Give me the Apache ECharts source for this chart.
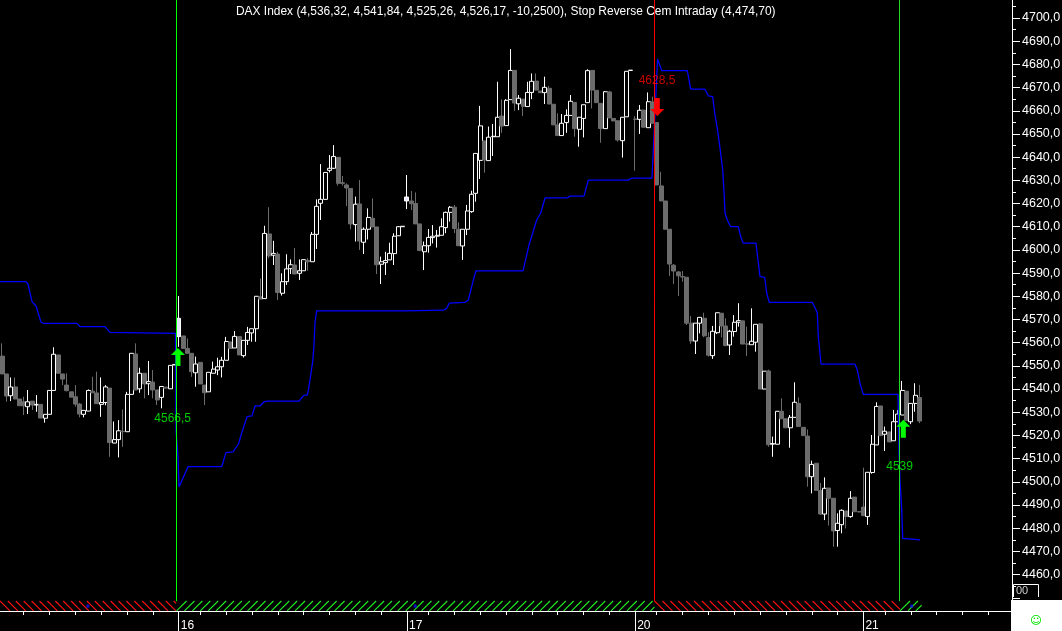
<!DOCTYPE html>
<html><head><meta charset="utf-8">
<style>html,body{margin:0;padding:0;background:#000}#c{width:1062px;height:631px}</style>
<script src="https://cdn.jsdelivr.net/npm/echarts@6/dist/echarts.min.js"></script>
</head><body><div id="c"></div>
<script>
const titleText = 'DAX Index (4,536,32, 4,541,84, 4,525,26, 4,526,17, -10,2500), Stop Reverse Cem Intraday (4,474,70)';
// candles: [open, close, low, high]
const session15 = [
[4554.2,4546.5,4546.5,4559.7],[4546.5,4537,4534.5,4546.5],[4537.1,4540.9,4534.8,4545],[4540.9,4535.7,4535.7,4545],
[4535.7,4532.8,4532.8,4535.7],[4534.5,4532.8,4528.8,4536.7],[4532.4,4534.5,4529.2,4539.6],[4534.8,4533.1,4531,4534.8],
[4533.1,4533.4,4530.2,4537.4],[4533.4,4527.5,4527.5,4533.4],[4527.4,4529.1,4525.5,4529.1],[4529.1,4539.4,4529.1,4539.4],
[4539.4,4555,4539.4,4558],[4554.7,4546.8,4546.8,4554.7],[4546.5,4544.3,4541.7,4546.5],[4541.7,4539.3,4539,4546.8],
[4538.8,4536.5,4536.5,4538.8],[4536.7,4533.5,4532.4,4541.7],[4533.5,4529.2,4527.8,4534],[4529.1,4530.8,4527.8,4530.8],
[4530.5,4539.4,4530.5,4539.8],[4539.1,4538.4,4538.4,4545.3],[4538.3,4533.7,4533.7,4547.5],[4533.4,4534.2,4528,4545],
[4534.2,4540.9,4533,4541.7],[4540.4,4516.9,4510.8,4540.4],[4516.7,4518.2,4516.7,4526],[4518.2,4522,4510.5,4526.6],
[4521.8,4521.6,4515.1,4531.2],[4521.6,4537.7,4521.6,4538.8],[4537.7,4555.4,4537.7,4555.4],[4555.1,4539.6,4539.6,4559.7],
[4540.1,4546.8,4538.4,4549.2],[4546.8,4542.2,4536,4546.8],[4542.3,4543.2,4537.4,4552.1],[4543,4539.6,4536,4548.2],
[4539.6,4535.3,4533.1,4539.6],[4536.4,4541.1,4531.7,4541.1],[4540.8,4540.4,4540.4,4540.8],[4540.1,4550.2,4540.1,4550.2],
[4550.4,4550.6,4550.4,4550.6]];
const session16 = [
[4562.6,4570.5,4558.2,4580.1],[4562.9,4557.5,4557.5,4562.9],[4557.5,4555.4,4555.4,4561.8],[4555.4,4547.5,4545.3,4555.4],
[4547,4550.8,4541,4554],[4551.5,4542.2,4542.2,4551.5],[4541.7,4538.4,4533.1,4541.7],[4538.8,4547.2,4538.8,4547.2],
[4546.8,4548.6,4546.8,4551.8],[4548.2,4549.6,4546,4553.5],[4549.6,4552.4,4545,4553.9],[4552.4,4560.5,4552.4,4562.5],
[4560.3,4557.5,4557.5,4560.3],[4557.7,4562.7,4557.7,4565],[4562.6,4554.7,4554.7,4562.6],[4554.4,4561,4553.6,4561],
[4561,4564.4,4559,4566.8],[4564.2,4566,4560.4,4566],[4566,4580,4560.4,4580],[4579.8,4578.8,4578.8,4587.7],
[4579,4607.1,4579,4610.4],[4606.9,4597.4,4596.4,4618.4],[4597.7,4598.5,4593.5,4603.9],[4598.2,4581.6,4578.4,4599.2],
[4581.3,4586.3,4580.3,4589.9],[4586.3,4591.8,4584.9,4598.1],[4591.9,4593.6,4589.6,4595.9],[4593.5,4589.6,4589.6,4600.8],
[4589.9,4591,4587,4595.9],[4591,4595.8,4591,4595.8],[4595.5,4594.9,4591,4596.4],[4594.9,4606.7,4594.9,4607.7],
[4606.7,4618.8,4600.4,4621.8],[4620.1,4621.8,4612.9,4637],[4621.8,4633.4,4621.8,4633.4],[4634.3,4635.2,4633.4,4640.9],
[4635.2,4640.3,4634.9,4645.2],[4639.9,4628.7,4627.7,4639.9],[4629,4628.7,4627.7,4631.9],[4628,4626.7,4618.9,4628.7],
[4626.5,4611.2,4608.9,4626.5],[4610.9,4619.7,4603.6,4623],[4619.8,4603.8,4600,4630.1],[4603.3,4608.9,4598.2,4609.7],
[4608.9,4614,4604.5,4617.9],[4613.6,4609.9,4609.9,4622.2],[4609.9,4593.6,4589.6,4609.9],[4593.8,4594.9,4585.3,4597.1],
[4594.5,4595.4,4589.2,4599.2],[4595.7,4598.5,4595.7,4603.1],[4598.4,4605.9,4593.5,4607.2],[4606.1,4610,4606.1,4610.3],
[4610,4610.2,4610,4610.2]];
const session17 = [
[4621.1,4622.8,4617.6,4632.3],[4621.1,4619.9,4617.2,4625.4],[4620,4611.2,4611.2,4624.8],[4611.2,4599.7,4599.7,4611.2],
[4599.2,4601.8,4591.3,4603.6],[4601.8,4605.4,4598.8,4609],[4605.3,4605.9,4602.8,4610.7],[4605.9,4606.3,4601,4608.6],
[4606.3,4610,4606.3,4613.6],[4609.6,4616.2,4607.2,4616.5],[4616.2,4618.4,4612.2,4618.9],[4618.4,4609.2,4607.2,4619.4],
[4608.9,4601.8,4601.8,4611.9],[4601.7,4608.9,4595.7,4608.9],[4608.9,4616.8,4606.4,4619.4],[4616.5,4624,4616,4625.5],
[4624.4,4641.6,4620.8,4641.6],[4638.6,4653.5,4630.6,4662.1],[4647,4638.8,4633.3,4647],[4638.5,4648.6,4638.5,4653.2],
[4648.8,4649,4640.5,4654.3],[4648.8,4657.2,4648.8,4672.5],[4657.7,4653.4,4650.5,4664.9],[4653.6,4664.5,4653.6,4665],
[4664.8,4677.4,4664.8,4686.6],[4677.4,4663.3,4660,4677.4],[4663,4665.4,4660.3,4666.8],[4665,4661.9,4657.7,4665],
[4661.8,4667.9,4661.8,4672.5],[4667.9,4672.7,4665,4676.1],[4672.8,4668.9,4668.9,4676.1],[4668.5,4667.8,4667.8,4668.5],
[4667.8,4670.1,4662.9,4674.7],[4669.7,4662.9,4662.9,4670.7],[4662.8,4653.9,4653.9,4662.8],[4653.9,4649.3,4649.3,4658.9],
[4649.3,4654.6,4649.3,4658.6],[4654.9,4658,4650.5,4660.6],[4658,4664.1,4658,4666.8],[4663.6,4652.3,4648.8,4663.6],
[4652,4657.2,4644.5,4657.2],[4656.7,4662.6,4648.5,4662.6],[4663.5,4677.3,4663.5,4677.9],[4677.4,4668.9,4661,4677.4],
[4668.8,4663.5,4663.5,4668.8],[4663.2,4652.3,4646.2,4663.2],[4652.3,4668.2,4652.3,4668.5],[4668.1,4656.9,4656.9,4668.6],
[4656.7,4655.6,4655.6,4656.7],[4655.7,4647.4,4646.7,4655.7],[4647.1,4657.2,4639.8,4657.2],[4657.4,4677,4657.4,4677],
[4677.4,4677.5,4677.4,4677.5]];
const session20 = [
[4656.4,4656.3,4634.2,4657.7],[4656.3,4660.2,4650,4662.5],[4660.3,4652.9,4652.9,4660.3],[4652.7,4663.9,4652.7,4667.9],
[4663.8,4654.6,4654.6,4666.1],[4654.9,4628,4628,4654.9],[4627.6,4621.1,4621.1,4633.7],[4621.1,4608.9,4608.9,4621.1],
[4608.9,4593.9,4588.8,4608.9],[4593.4,4590.9,4585.3,4593.9],[4590.5,4588.8,4580.1,4590.9],[4588.5,4588.3,4586.3,4590.9],
[4588.2,4568.4,4567.6,4588.2],[4568.4,4560.7,4559.5,4571.5],[4560.7,4568.4,4555.1,4568.4],[4568.4,4570.9,4564,4570.9],
[4570.5,4562.9,4562.3,4572.9],[4562.2,4554.6,4554,4564.5],[4554.4,4564.9,4553,4567.2],[4564.3,4572.9,4563.7,4572.9],
[4572.7,4567.2,4562.3,4572.7],[4567.2,4558.7,4558.7,4570.5],[4559,4564.9,4554.7,4565.5],[4564.8,4568.8,4562.6,4571.9],
[4568.8,4569.5,4566.9,4577],[4569.4,4559.4,4559.4,4569.4],[4559.5,4559.3,4554.3,4566.9],[4559.1,4560.6,4559.1,4574.8],
[4560.2,4567.9,4556.1,4567.9],[4568.1,4540,4540,4568.5],[4540,4547.7,4540,4547.7],[4547.8,4516,4515.1,4548.4],
[4516.2,4516.5,4510.8,4519.5],[4516.2,4530.4,4516.2,4530.4],[4530.4,4527.2,4527.2,4536],[4527.2,4523.3,4523.3,4527.2],
[4523.3,4527.8,4514.7,4528.8],[4527.8,4534.3,4527.8,4542.9],[4533.8,4523.8,4523.8,4536.4],[4523.5,4519.9,4519.9,4523.5],
[4519.7,4502.2,4497.9,4522.6],[4502.2,4507.5,4495,4509.1],[4508,4496.3,4496.3,4508],[4496.2,4486.1,4485.7,4499.5],
[4486.1,4497.2,4483.5,4501.9],[4497.3,4492.9,4481.1,4497.3],[4492.9,4478.8,4472,4492.9],[4479,4482.1,4472,4486.4],
[4481.5,4487.7,4477.8,4488.1],[4487.4,4485,4479.9,4487.4],[4485,4492.9,4484.5,4496],[4493.4,4487.1,4487.1,4493.4],
[4487.1,4487,4487,4487.1]];
const session21 = [
[4489.1,4485.4,4485.4,4506.1],[4485,4504.1,4481.4,4504.1],[4504,4516.2,4503.5,4520.2],[4515.9,4532.5,4515.9,4534.3],
[4532.7,4519.9,4519.9,4532.7],[4520.5,4521.8,4513.3,4523.8],[4521.5,4517.2,4517.2,4521.5],[4517.7,4525.9,4517.7,4531],
[4525.9,4529.2,4525.9,4531],[4528.8,4539.4,4528.8,4543.5],[4539.1,4526.4,4526.4,4539.1],[4525.9,4533.8,4524.9,4533.8],
[4533.8,4537.3,4530.2,4542.5],[4536.3,4526.2,4525.3,4541.8]];
const filledBodies = [41, 94];
const barSlots = 235;
const dayIndex = {41:'16', 94:'17', 147:'20', 200:'21'};
const tickIndex = [5,11,17,23,29,35,41,46,52,58,64,70,76,82,88,94,99,105,111,117,123,129,135,141,147,152,158,164,170,176,182,188,194,200,205,211,217,223,229];
// stop-reverse line: bar position, price level
const stopPos = [0,6.04,6.5,7.43,8.36,9.52,10.22,17.88,18.58,24.38,25.54,26,40.75,40.87,41.33,41.57,42.03,43.66,51.48,52.48,54.1,55.38,56.2,57.36,58.52,59.21,60.38,61.3,62,69.5,69.83,70.6,71.36,71.68,72.15,72.61,72.92,73.15,73.54,94.05,94.44,102.94,103.73,104.33,104.66,107.98,108.75,109.91,110.53,121.45,122.84,124.63,125.56,126.56,131.66,132.36,135.61,136.61,145.83,146.69,151.4,151.63,152.7,153.66,159.6,160.39,163.71,164.48,165.49,166.03,166.57,167.19,167.82,168.19,168.35,168.89,169.68,171.44,172,172.6,175.55,175.95,176.48,177.57,178.04,178.64,188.63,189.42,189.79,190.02,190.42,190.65,198.54,199.08,199.7,200.47,208.53,208.76,208.99,209.39,209.62,213.64];
const stopLevel = [4586.3,4586.3,4585.3,4577.7,4575.8,4568.8,4568.3,4568.3,4566.9,4566.9,4564.4,4564,4564,4522.3,4511.1,4497.8,4498.4,4506.5,4506.5,4512.6,4512.9,4516.3,4521.5,4528.1,4528.4,4532.7,4532.7,4534.5,4534.8,4534.8,4535.7,4537.4,4537.4,4540.3,4546.1,4551.8,4559,4569,4573.7,4573.7,4574,4574,4574.8,4577,4577.4,4577.4,4578.4,4587,4591,4591,4602.1,4612.9,4615.9,4622.4,4622.4,4623.2,4623.2,4630.1,4630.1,4630.9,4630.9,4630.9,4682.3,4677.3,4677.3,4669.3,4669.3,4666.4,4666.1,4658.2,4652.4,4643.9,4634.5,4622.9,4615.9,4612.9,4610,4610,4605.7,4602.9,4602.9,4596.5,4588.5,4588.2,4581.3,4577.4,4577.4,4574.4,4572.7,4562.6,4555.4,4550.7,4550.7,4548.2,4542.5,4537.7,4537.7,4513,4500.8,4487.9,4475.6,4475];
// signals
const signalPos = [40.986, 151.98, 208.88];
const signalColor = ['#00ff00', '#ff0000', '#22dd22'];
const arrowUp = [[41.33,4553.8],[209.76,4522.9]];
const arrowDown = [[152.63,4661.6]];
const signalText = ['4566,5','4628,5','4539'];
const signalTextAt = [[40.1,4527],[152.56,4672.9],[208.9,4506.6]];
const signalTextColor = ['#00ff00','#ff0000','#00ff00'];
// regime hatch along the bottom: from, to, 0 red / 1 green
const regimeFrom = [0,41,152,209];
const regimeTo = [40.9,152,209,214];
const regimeKind = [0,1,0,1];
const regimeDots = [[20.4,4446.4],[96.4,4446.4],[211.7,4446.4]];

const bars = session15.concat(session16, session17, session20, session21);
const categories = Array.from({length: barSlots}, (_, i) => dayIndex[i] || '');
const candleData = bars.map((b, i) => filledBodies.includes(i)
  ? {value: b, itemStyle: {color: '#e6e6ff'}} : b);
const GRID = {left: 0, top: -5.19, width: 1012, height: 626.13, containLabel: false, outerBoundsMode: 'none'};
const AXIS_SHIFT = -9.94;

const chart = echarts.init(document.getElementById('c'), null, {renderer: 'canvas'});
chart.setOption({
  animation: false,
  backgroundColor: '#000',
  title: {text: titleText, left: 231, top: 1,
    textStyle: {color: '#fff', fontSize: 11.95, fontWeight: 'normal', fontFamily: 'Liberation Sans'}},
  grid: [GRID, GRID],
  xAxis: [
    {type: 'category', gridIndex: 0, data: categories, boundaryGap: true, offset: AXIS_SHIFT,
     axisLine: {onZero: false, lineStyle: {color: '#fff', width: 1}},
     axisTick: {show: true, alignWithLabel: true, length: 4, lineStyle: {color: '#fff', width: 1},
       interval: i => tickIndex.includes(i)},
     axisLabel: {show: false}, splitLine: {show: false}},
    {type: 'value', gridIndex: 0, min: 0, max: barSlots, show: false, position: 'top'},
    {type: 'category', gridIndex: 1, data: categories, boundaryGap: true, offset: AXIS_SHIFT,
     axisLine: {show: false, onZero: false},
     axisTick: {show: true, alignWithLabel: true, length: 20, lineStyle: {color: '#fff'},
       interval: i => i in dayIndex},
     axisLabel: {show: true, color: '#fff', fontSize: 12, fontFamily: 'Liberation Sans', align: 'left',
       margin: 9, padding: [0,0,0,2], interval: i => i in dayIndex, hideOverlap: false},
     splitLine: {show: false}}
  ],
  yAxis: [
    {type: 'value', gridIndex: 0, position: 'right', min: 4440, max: 4710, interval: 10, scale: true,
     axisLine: {show: true, onZero: false, lineStyle: {color: '#fff', width: 1}},
     axisTick: {show: true, length: 8, lineStyle: {color: '#fff'}},
     minorTick: {show: true, splitNumber: 2, length: 4, lineStyle: {color: '#fff'}},
     splitLine: {show: false}, minorSplitLine: {show: false},
     axisLabel: {color: '#fff', fontSize: 12.5, fontFamily: 'Liberation Sans', margin: 10, padding: [5,0,0,0],
       showMinLabel: true, showMaxLabel: true,
       formatter: v => (v >= 4460 && v <= 4700) ? v.toFixed(1).replace('.', ',') : ''}},
    {type: 'value', gridIndex: 1, min: 4440, max: 4710, show: false}
  ],
  series: [
    {type: 'custom', name: 'regime', xAxisIndex: 1, yAxisIndex: 0, clip: false, silent: true, z: 1,
     data: regimeFrom.map((f, i) => [f, regimeTo[i], 4448.6, 4444.3, regimeKind[i]]),
     encode: {x: [0, 1], y: [2, 3]},
     renderItem: (params, api) => {
       const a = api.coord([api.value(0), api.value(2)]);
       const b = api.coord([api.value(1), api.value(3)]);
       const kind = api.value(4), kids = [];
       const stroke = kind ? '#20f020' : '#ff1010';
       const h = b[1] - a[1];
       for (let x = a[0]; x + 2 < b[0]; x += 7.9) {
         const xe = Math.min(x + h, b[0]);
         const dx = xe - x;
         kids.push({type: 'line', silent: true, style: {stroke, lineWidth: 1.1},
           shape: kind ? {x1: x, y1: b[1], x2: xe, y2: b[1] - dx} : {x1: x, y1: a[1], x2: xe, y2: a[1] + dx}});
       }
       return {type: 'group', children: kids};
     }},
    {type: 'candlestick', name: 'DAX Index', xAxisIndex: 0, yAxisIndex: 0, data: candleData, barWidth: 4.5, z: 2,
     progressive: 0, silent: true,
     itemStyle: {color: '#000', color0: '#6c6c6c', borderColor: '#fff', borderColor0: '#6c6c6c', borderWidth: 1}},
    {type: 'line', name: 'Stop Reverse Cem Intraday', xAxisIndex: 1, yAxisIndex: 0, z: 3, silent: true,
     data: stopPos.map((p, i) => [p, stopLevel[i]]), showSymbol: false, symbol: 'none', clip: false,
     lineStyle: {color: '#0000ff', width: 1.25}},
    {type: 'scatter', name: 'regime marks', xAxisIndex: 1, yAxisIndex: 0, z: 3, silent: true, clip: false,
     data: regimeDots, symbol: 'rect', symbolSize: 3, itemStyle: {color: '#1010ff'}},
    ...signalPos.map((p, i) => ({type: 'line', name: 'signal' + i, xAxisIndex: 1, yAxisIndex: 0, z: 4, silent: true,
      data: [[p, 4712], [p, 4448.5]], showSymbol: false, symbol: 'none', clip: false,
      lineStyle: {color: signalColor[i], width: 1}})),
    {type: 'scatter', name: 'buy', xAxisIndex: 1, yAxisIndex: 0, z: 5, silent: true,
     data: arrowUp, symbol: 'path://M7 0L14 7H9.5V18H4.5V7H0Z', symbolSize: [14, 18], itemStyle: {color: '#00ff00', opacity: 1}},
    {type: 'scatter', name: 'sell', xAxisIndex: 1, yAxisIndex: 0, z: 5, silent: true,
     data: arrowDown, symbol: 'path://M4.5 0H9.5V11H14L7 18L0 11H4.5Z', symbolSize: [14, 18], itemStyle: {color: '#ff0000', opacity: 1}},
    {type: 'scatter', name: 'signal labels', xAxisIndex: 1, yAxisIndex: 0, z: 6, silent: true,
     symbolSize: 1, itemStyle: {color: 'transparent'},
     data: signalText.map((t, i) => ({name: t, value: signalTextAt[i],
       label: {show: true, position: 'inside', formatter: t, color: signalTextColor[i], fontSize: 12, fontFamily: 'Liberation Sans'}}))}
  ],
  graphic: [
    {type: 'polyline', z: 50, shape: {points: [[1013.5, 597], [1013.5, 584.5], [1038.5, 584.5], [1038.5, 597]]}, style: {stroke: '#fff', lineWidth: 1, fill: null}},
    {type: 'text', z: 50, style: {text: '00', x: 1016, y: 585, fill: '#ccc', fontSize: 11, fontFamily: 'Liberation Sans'}},
    {type: 'rect', z: 60, shape: {x: 1011, y: 600, width: 51, height: 31}, style: {fill: '#fff'}},
    {type: 'text', z: 61, style: {text: '☺', x: 1036, y: 621, align: 'center', verticalAlign: 'middle', fill: '#00e000', fontSize: 11.5, fontFamily: 'DejaVu Sans'}}
  ]
});
</script></body></html>
